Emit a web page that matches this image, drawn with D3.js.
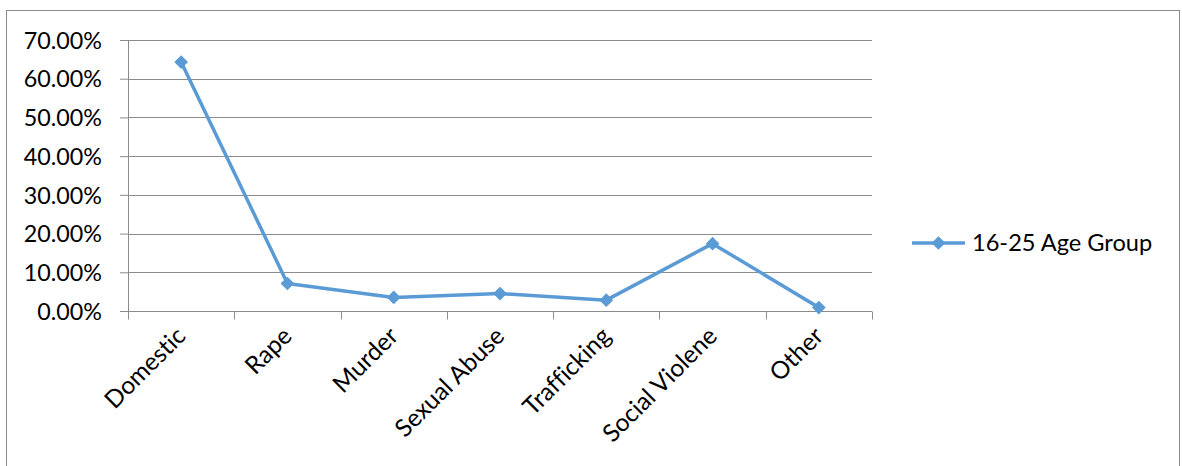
<!DOCTYPE html>
<html>
<head>
<meta charset="utf-8">
<script src="https://cdn.jsdelivr.net/npm/d3@7"></script>
<style>
  html, body { margin: 0; padding: 0; background: #fff; }
  svg { display: block; }
  text { font-family: Lato, "Open Sans", sans-serif; fill: #000; font-variant-ligatures: none; }
</style>
</head>
<body>
<svg id="chart" width="1182" height="466"></svg>
<script>
// Share of cases by type of violence, 16-25 age group
const categories = ["Domestic", "Rape", "Murder", "Sexual Abuse", "Trafficking", "Social Violene", "Other"];
const values = [0.643, 0.071, 0.035, 0.045, 0.028, 0.174, 0.009];
const seriesName = "16-25 Age Group";
const yTicks = [0, 0.1, 0.2, 0.3, 0.4, 0.5, 0.6, 0.7];

const svg = d3.select("#chart");
const plot = { left: 128, right: 872, top: 40, bottom: 311 };
const blue = "#5B9BD5";
const grid = "#8c8c8c";

// outer chart frame
svg.append("rect")
  .attr("x", 6.5).attr("y", 10.5)
  .attr("width", 1173).attr("height", 480)
  .attr("fill", "#fff").attr("stroke", "#8c8c8c").attr("stroke-width", 1);

const x = d3.scaleBand().domain(categories).range([plot.left, plot.right]).padding(0);
const y = d3.scaleLinear().domain([0, 0.7]).range([plot.bottom, plot.top]);

// y axis
const yAxis = d3.axisLeft(y)
  .tickValues(yTicks)
  .tickFormat(d3.format(".2%"))
  .tickSize(8)
  .tickPadding(18);

const gy = svg.append("g")
  .attr("transform", `translate(${plot.left},0)`)
  .call(yAxis);
gy.select(".domain").attr("stroke", grid);
gy.selectAll(".tick line").attr("stroke", grid);
gy.selectAll(".tick text")
  .style("font-size", "23.3px")
  .attr("dy", "0.35em");

// horizontal gridlines
svg.append("g").selectAll("line")
  .data(yTicks.filter(d => d > 0))
  .join("line")
  .attr("x1", plot.left).attr("x2", plot.right)
  .attr("y1", d => Math.round(y(d)) + 0.5).attr("y2", d => Math.round(y(d)) + 0.5)
  .attr("stroke", grid).attr("stroke-width", 1);

// x axis with ticks at category boundaries
const gx = svg.append("g").attr("transform", `translate(0,${plot.bottom + 0.5})`);
gx.append("line")
  .attr("x1", plot.left).attr("x2", plot.right)
  .attr("stroke", grid);
const boundaries = categories.map(c => x(c)).concat([plot.right]);
gx.selectAll("line.tk")
  .data(boundaries)
  .join("line")
  .attr("class", "tk")
  .attr("x1", d => Math.round(d) + 0.5).attr("x2", d => Math.round(d) + 0.5)
  .attr("y1", 0).attr("y2", 8)
  .attr("stroke", grid);

gx.selectAll("text")
  .data(categories)
  .join("text")
  .attr("text-anchor", "end")
  .attr("transform", d => `translate(${x(d) + x.bandwidth() / 2 + 6},${26}) rotate(-45)`)
  .style("font-size", "24.5px")
  .text(d => d);

// series line with diamond markers
const cx = d => x(d) + x.bandwidth() / 2;
const line = d3.line()
  .x((d, i) => cx(categories[i]))
  .y(d => y(d));

svg.append("path")
  .datum(values)
  .attr("d", line)
  .attr("fill", "none")
  .attr("stroke", blue)
  .attr("stroke-width", 3.5)
  .attr("stroke-linejoin", "round");

const diamond = d3.symbol().type(d3.symbolDiamond2).size(120);
svg.append("g").selectAll("path")
  .data(values)
  .join("path")
  .attr("d", diamond)
  .attr("transform", (d, i) => `translate(${cx(categories[i])},${y(d)})`)
  .attr("fill", blue);

// legend
const lg = svg.append("g").attr("transform", "translate(912,243)");
lg.append("line")
  .attr("x1", 0).attr("x2", 53)
  .attr("stroke", blue).attr("stroke-width", 3.5);
lg.append("path")
  .attr("d", diamond)
  .attr("transform", "translate(26.5,0)")
  .attr("fill", blue);
lg.append("text")
  .attr("x", 60).attr("dy", "0.35em")
  .style("font-size", "23.6px")
  .text(seriesName);
</script>
</body>
</html>
